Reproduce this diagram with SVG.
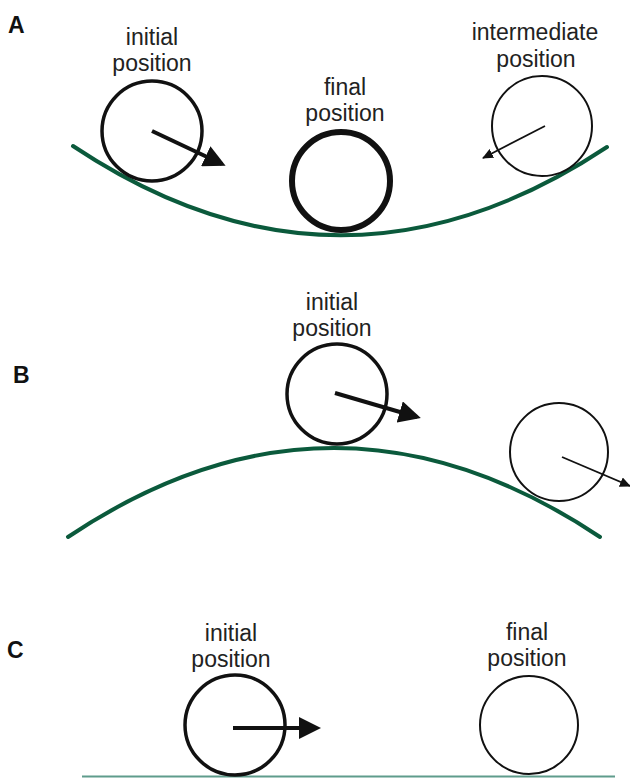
<svg xmlns="http://www.w3.org/2000/svg" width="630" height="778" viewBox="0 0 630 778">
<style>
text{font-family:"Liberation Sans",Arial,sans-serif;fill:#222;}
.lbl{font-size:23px;text-anchor:middle;}
.panel{font-size:23px;font-weight:bold;fill:#111;}
.ball{fill:none;stroke:#111;}
.thick{stroke-width:3.5;}
.heavy{stroke-width:6;}
.thin{stroke-width:2;}
.ground{fill:none;stroke:#0b5a3c;stroke-width:4;stroke-linecap:round;}
.big{stroke:#111;stroke-width:4;fill:none;marker-end:url(#headBig);}
.small{stroke:#111;stroke-width:1.8;fill:none;marker-end:url(#headSmall);}
</style>
<defs>
<marker id="headBig" viewBox="0 0 22 22" refX="18" refY="11" markerWidth="22" markerHeight="22" markerUnits="userSpaceOnUse" orient="auto">
<path d="M0,0 L22,11 L0,22 z" fill="#111"/>
</marker>
<marker id="headSmall" viewBox="0 0 11 10" refX="10" refY="5" markerWidth="11" markerHeight="10" markerUnits="userSpaceOnUse" orient="auto">
<path d="M0,0 L11,5 L0,10 z" fill="#111"/>
</marker>
</defs>
<rect width="630" height="778" fill="#fff"/>

<g id="panel-labels">
<text class="panel" x="8" y="33">A</text>
<text class="panel" x="13" y="383">B</text>
<text class="panel" x="7" y="658">C</text>
</g>

<g id="grounds">
<path class="ground" d="M73,146 Q340,324 607,147"/>
<path class="ground" d="M68,537 Q334,359 600,537"/>
<line x1="82" y1="776.5" x2="615" y2="776.5" stroke="#5f9c8c" stroke-width="2"/>
</g>

<g id="A-initial">
<text class="lbl" x="152" y="45">initial</text>
<text class="lbl" x="152" y="71">position</text>
<circle class="ball thick" cx="152" cy="131" r="50"/>
</g>
<g id="A-final">
<text class="lbl" x="345" y="95">final</text>
<text class="lbl" x="345" y="121">position</text>
<circle class="ball heavy" cx="341" cy="181" r="49"/>
</g>
<g id="A-intermediate">
<text class="lbl" x="535" y="40">intermediate</text>
<text class="lbl" x="536" y="67">position</text>
<circle class="ball thin" cx="542" cy="126" r="50"/>
</g>
<g id="B-initial">
<text class="lbl" x="332" y="310">initial</text>
<text class="lbl" x="332" y="336">position</text>
<circle class="ball thick" cx="337" cy="394" r="50"/>
</g>
<g id="B-next">
<circle class="ball thin" cx="559" cy="452" r="49"/>
</g>
<g id="C-initial">
<text class="lbl" x="231" y="641">initial</text>
<text class="lbl" x="231" y="667">position</text>
<circle class="ball thick" cx="235" cy="725" r="50"/>
</g>
<g id="C-final">
<text class="lbl" x="527" y="640">final</text>
<text class="lbl" x="527" y="666">position</text>
<circle class="ball thin" cx="529" cy="725" r="49"/>
</g>

<g id="connectors">
<line class="big" x1="152" y1="131" x2="222" y2="164"/>
<line class="small" x1="545" y1="126" x2="483" y2="158"/>
<line class="big" x1="335" y1="393" x2="417" y2="417"/>
<line class="small" x1="562" y1="457" x2="630" y2="486"/>
<line class="big" x1="233" y1="728" x2="317" y2="728"/>
</g>
</svg>
